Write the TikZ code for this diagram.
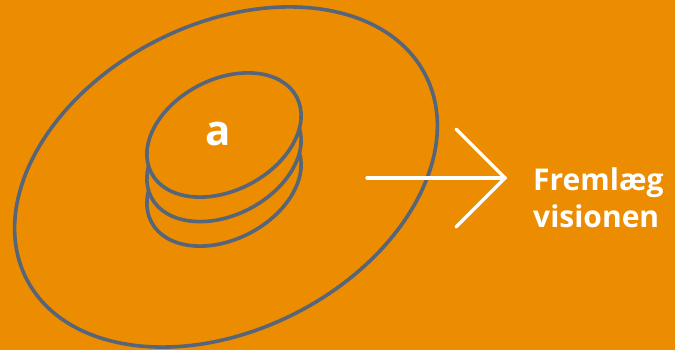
\documentclass[tikz,border=0pt]{standalone}
\usepackage{fontspec}
\setmainfont{Open Sans}
\definecolor{bgorange}{RGB}{236,140,0}
\definecolor{slate}{RGB}{86,101,122}
\begin{document}
\begin{tikzpicture}[x=1pt,y=1pt,
  ring/.style={draw=slate,line width=3.6pt,fill=bgorange},
  arrowline/.style={draw=white,line width=3.4pt,line cap=round,line join=miter},
  label/.style={text=white,font=\bfseries\fontsize{30}{37}\selectfont,align=left,inner sep=0pt}]
\useasboundingbox (0,0) rectangle (675,350);
\fill[bgorange] (0,0) rectangle (675,350);
% big ellipse
\draw[ring,fill=none] (226,173) ellipse[x radius=224,y radius=153,rotate=27];
% stacked discs
\draw[ring] (224,166) ellipse[x radius=82,y radius=55.5,rotate=27.5];
\draw[ring] (224,190.5) ellipse[x radius=82,y radius=55.5,rotate=27.5];
\draw[ring] (224,215) ellipse[x radius=82,y radius=55.5,rotate=27.5];
\node[text=white,font=\bfseries\fontsize{42}{42}\selectfont,inner sep=0pt] (a) at (218,216) {a};
% arrow
\coordinate (tail) at (367,172);
\coordinate (tip) at (505,172);
\coordinate (armtop) at (456,221);
\coordinate (armbot) at (456,123);
\draw[arrowline] (tail) -- (tip);
\draw[arrowline] (armtop) -- (tip) -- (armbot);
\node[label,anchor=west] (txt) at (533,152) {Fremlæg\\visionen};
\end{tikzpicture}
\end{document}
